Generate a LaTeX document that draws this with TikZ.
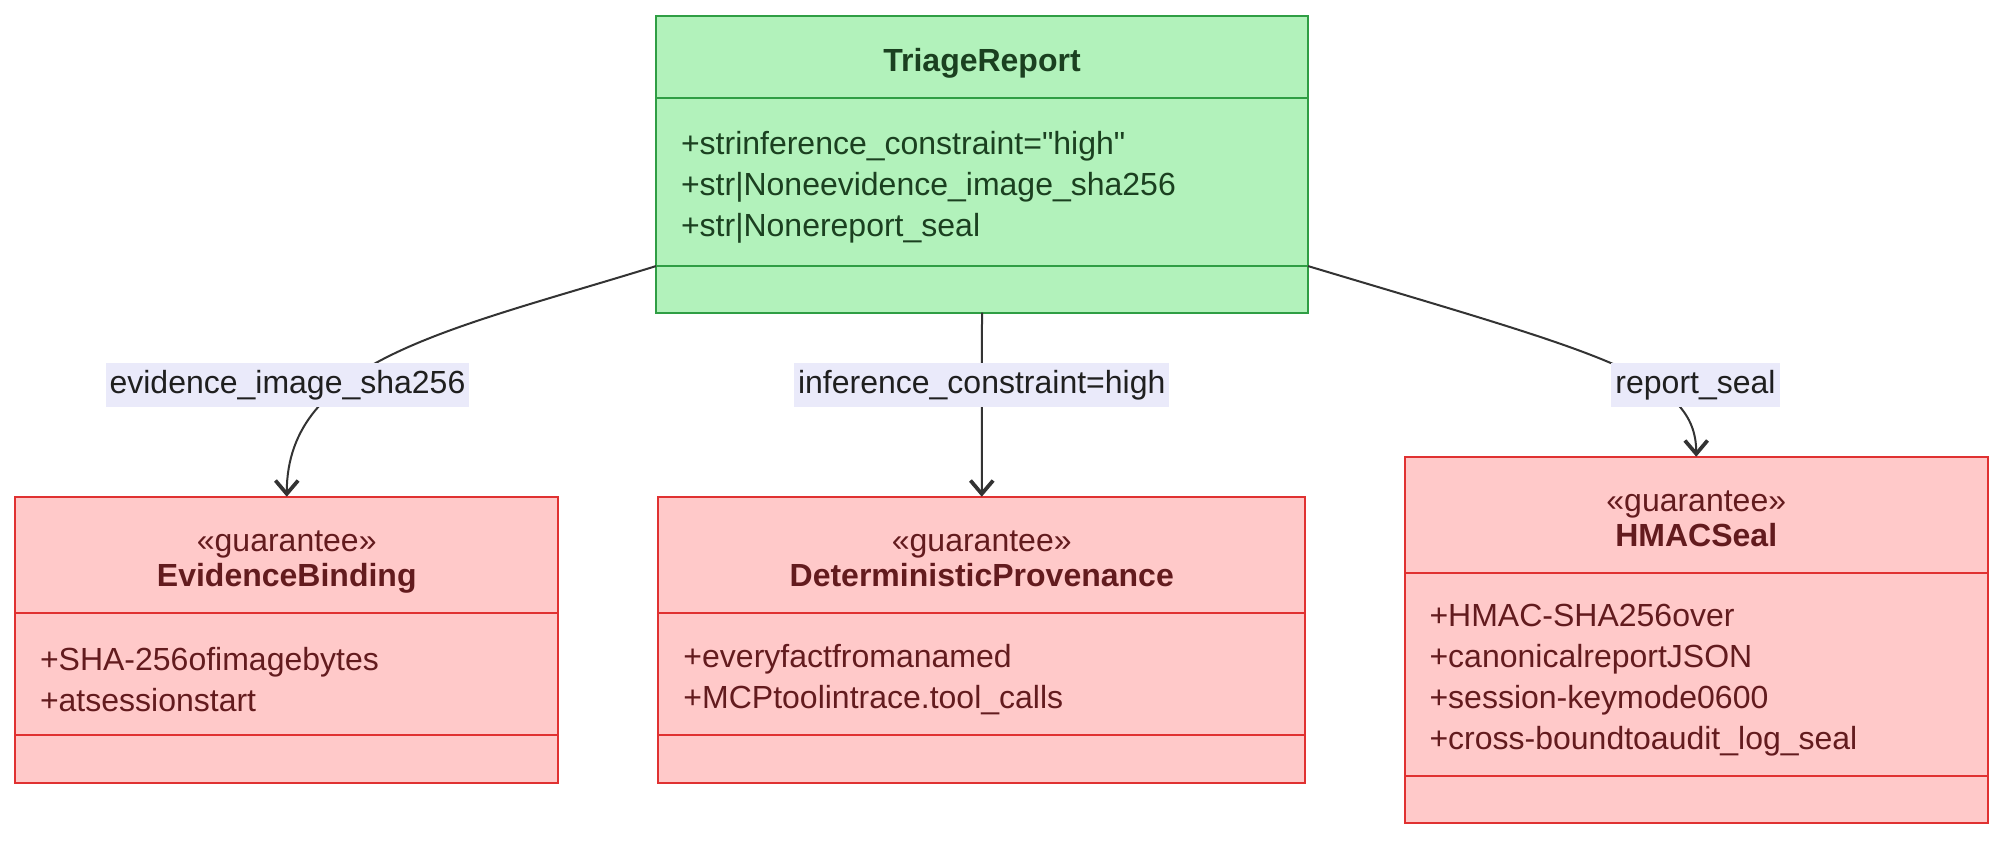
\documentclass[tikz,border=0pt]{standalone}
\usepackage{fontspec}
\setmainfont{Liberation Sans}[Ligatures=TeXOff]
\usetikzlibrary{positioning,arrows.meta}

\definecolor{trfill}{RGB}{178,242,187}
\definecolor{trline}{RGB}{47,158,68}
\definecolor{trtext}{RGB}{27,64,32}
\definecolor{gfill}{RGB}{255,201,201}
\definecolor{gline}{RGB}{224,49,49}
\definecolor{gtext}{RGB}{99,27,30}
\definecolor{lblbg}{RGB}{234,234,250}
\definecolor{edgecol}{RGB}{51,51,51}

\newcommand{\hdstrut}{\rule{0pt}{27pt}}
\newcommand{\hdend}{\rule[-5.5pt]{0pt}{5.5pt}}

\tikzset{every picture/.style={line width=0.75pt}}
\tikzset{
  cpt/.style={draw, rectangle, outer sep=0pt, inner sep=0pt, line width=1.5pt},
  report/.style={cpt, draw=trline, fill=trfill, text=trtext},
  guar/.style={cpt, draw=gline, fill=gfill, text=gtext},
  headtxt/.style={align=center, font=\fontsize{24}{26.5}\selectfont},
  attrtxt/.style={align=left, inner xsep=18.75pt, font=\fontsize{24}{30.75}\selectfont, execute at begin node={\rule{0pt}{25.2pt}}},
  lbl/.style={fill=lblbg, text=black!88, inner xsep=3pt, inner ysep=0pt, minimum height=32.5pt, font=\fontsize{24}{28}\selectfont},
  dep/.style={draw=edgecol, line width=1.5pt, -{Straight Barb[length=10pt,width=17pt,line width=2.8pt]}}
}

\begin{document}
\begin{tikzpicture}[x=0.75pt,y=0.75pt,yscale=-1,xscale=1]
\useasboundingbox (0,0) rectangle (2004,840);

% TriageReport
\node (TRhead) [report, headtxt, minimum width=489pt, minimum height=62pt] at (982,57) {\hdstrut\textbf{TriageReport}};
\node (TRattr) [report, attrtxt, text width=451.5pt, minimum height=125.8pt, below=0pt of TRhead] {+strinference\_constraint="high"\\+str|Noneevidence\_image\_sha256\\+str|Nonereport\_seal};
\node (TRmeth) [report, minimum width=489pt, minimum height=35pt, below=0pt of TRattr] {};

% EvidenceBinding
\node (EBhead) [guar, headtxt, minimum width=407.6pt, minimum height=87.2pt] at (286.75,554.85) {\hdstrut«guarantee»\\\textbf{EvidenceBinding}\hdend};
\node (EBattr) [guar, attrtxt, text width=370.1pt, minimum height=91.5pt, below=0pt of EBhead] {+SHA-256ofimagebytes\\+atsessionstart};
\node (EBmeth) [guar, minimum width=407.6pt, minimum height=36.2pt, below=0pt of EBattr] {};

% DeterministicProvenance
\node (DPhead) [guar, headtxt, minimum width=484.9pt, minimum height=87.2pt] at (981.75,554.85) {\hdstrut«guarantee»\\\textbf{DeterministicProvenance}\hdend};
\node (DPattr) [guar, attrtxt, text width=447.4pt, minimum height=91.5pt, below=0pt of DPhead] {+everyfactfromanamed\\+MCPtoolintrace.tool\_calls};
\node (DPmeth) [guar, minimum width=484.9pt, minimum height=36.2pt, below=0pt of DPattr] {};

% HMACSeal
\node (HShead) [guar, headtxt, minimum width=437.6pt, minimum height=87pt] at (1696.25,514.7) {\hdstrut«guarantee»\\\textbf{HMACSeal}\hdend};
\node (HSattr) [guar, attrtxt, text width=400.1pt, minimum height=152.5pt, below=0pt of HShead] {+HMAC-SHA256over\\+canonicalreportJSON\\+session-keymode0600\\+cross-boundtoaudit\_log\_seal};
\node (HSmeth) [guar, minimum width=437.6pt, minimum height=35.25pt, below=0pt of HSattr] {};

% edges
\draw [dep] (TRattr.south west) .. controls (450,330) and (287,360) .. (EBhead.north);
\draw [dep] (TRmeth.south) -- (DPhead.north);
\draw [dep] (TRattr.south east) .. controls (1601,354) and (1696,376) .. (HShead.north);

% edge labels
\node (lblEB) [lbl] at (287.5,385) {evidence\_image\_sha256};
\node (lblDP) [lbl] at (981.75,385) {inference\_constraint=high};
\node (lblHS) [lbl] at (1695.5,385) {report\_seal};

\end{tikzpicture}
\end{document}
